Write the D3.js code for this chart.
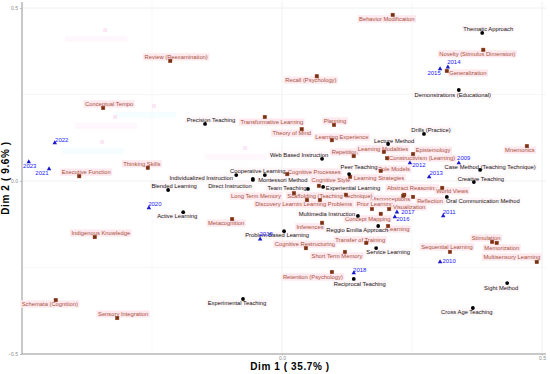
<!DOCTYPE html>
<html>
<head>
<meta charset="utf-8">
<script src="https://cdn.jsdelivr.net/npm/d3@7"></script>
<style>
  body { margin: 0; background: #fff; }
  svg { display: block; font-family: "Liberation Sans", Arial, sans-serif; }
</style>
</head>
<body>
<script>
// teaching methods (black circles): [name, dim1, dim2]
const methods = [
  ["Thematic Approach", 0.385, 0.428],
  ["Demonstrations (Educational)", 0.340, 0.263],
  ["Precision Teaching", -0.148, 0.165],
  ["Drills (Practice)", 0.273, 0.136],
  ["Lecture Method", 0.204, 0.107],
  ["Web Based Instruction", 0.077, 0.064],
  ["Peer Teaching", 0.129, 0.020],
  ["Case Method (Teaching Technique)", 0.381, 0.032],
  ["Creative Teaching", 0.369, -0.003],
  ["Cooperative Learning", -0.033, 0.017],
  ["Individualized Instruction", -0.088, 0.017],
  ["Montessori Method", -0.056, 0.006],
  ["Direct Instruction", -0.056, 0.003],
  ["Blended Learning", -0.219, -0.026],
  ["Active Learning", -0.190, -0.090],
  ["Team Teaching", 0.050, -0.023],
  ["Experiential Learning", 0.079, -0.017],
  ["Multimedia Instruction", 0.146, -0.101],
  ["Reggio Emilia Approach", 0.185, -0.130],
  ["Problem Based Learning", 0.004, -0.145],
  ["Service Learning", 0.181, -0.194],
  ["Reciprocal Teaching", 0.138, -0.283],
  ["Experimental Teaching", -0.075, -0.341],
  ["Sight Method", 0.433, -0.295],
  ["Cross Age Teaching", 0.367, -0.367],
  ["Oral Communication Method", 0.317, -0.046]
];

// learning concepts (brown squares)
const concepts = [
  ["Behavior Modification", 0.213, 0.480],
  ["Novelty (Stimulus Dimension)", 0.387, 0.379],
  ["Generalization", 0.317, 0.318],
  ["Recall (Psychology)", 0.067, 0.303],
  ["Review (Reexamination)", -0.215, 0.347],
  ["Conceptual Tempo", -0.344, 0.211],
  ["Transformative Learning", -0.033, 0.185],
  ["Planning", 0.100, 0.162],
  ["Theory of Mind", 0.038, 0.150],
  ["Learning Experience", 0.096, 0.118],
  ["Repetition", 0.138, 0.072],
  ["Learning Modalities", 0.196, 0.084],
  ["Epistemology", 0.252, 0.078],
  ["Constructivism (Learning)", 0.202, 0.066],
  ["Mnemonics", 0.471, 0.101],
  ["Cognitive Processes", 0.010, 0.020],
  ["Role Models", 0.190, 0.029],
  ["Cognitive Style", 0.071, -0.014],
  ["Learning Strategies", 0.131, 0.012],
  ["Abstract Reasoning", 0.235, -0.040],
  ["Misconceptions", 0.233, -0.043],
  ["World Views", 0.308, -0.020],
  ["Reflection", 0.252, -0.046],
  ["Long Term Memory", 0.023, -0.035],
  ["Scaffolding (Teaching Technique)", 0.123, -0.040],
  ["Discovery Learning", 0.048, -0.055],
  ["Learning Problems", 0.073, -0.055],
  ["Prior Learning", 0.173, -0.081],
  ["Visualization", 0.206, -0.081],
  ["Concept Mapping", 0.190, -0.095],
  ["Metacognition", -0.096, -0.110],
  ["Inferences", 0.077, -0.121],
  ["Learning", 0.204, -0.130],
  ["Cognitive Restructuring", 0.046, -0.194],
  ["Transfer of Training", 0.162, -0.179],
  ["Short Term Memory", 0.121, -0.205],
  ["Retention (Psychology)", 0.096, -0.263],
  ["Sequential Learning", 0.323, -0.205],
  ["Stimulation", 0.404, -0.176],
  ["Memorization", 0.413, -0.179],
  ["Multisensory Learning", 0.490, -0.234],
  ["Thinking Skills", -0.258, 0.038],
  ["Executive Function", -0.390, 0.014],
  ["Indigenous Knowledge", -0.360, -0.162],
  ["Schemata (Cognition)", -0.435, -0.344],
  ["Sensory Integration", -0.317, -0.396]
];

// publication years (blue triangles)
const years = [
  ["2009", 0.340, 0.052],
  ["2010", 0.304, -0.234],
  ["2011", 0.310, -0.101],
  ["2012", 0.246, 0.052],
  ["2013", 0.283, 0.012],
  ["2014", 0.319, 0.329],
  ["2015", 0.304, 0.324],
  ["2016", 0.217, -0.104],
  ["2017", 0.221, -0.090],
  ["2018", 0.138, -0.266],
  ["2019", -0.042, -0.168],
  ["2020", -0.256, -0.078],
  ["2021", -0.448, 0.035],
  ["2022", -0.437, 0.110],
  ["2023", -0.487, 0.055]
];

// faint supplementary points
const ghosts = [
  [-0.340, 0.436],
  [-0.246, 0.217],
  [-0.321, 0.185],
  [-0.346, 0.113],
  [-0.071, 0.095]
];

const xTicks = [0, 0.5];
const yTicks = [-0.5, 0, 0.5];
const gridX = [-0.5, -0.25, 0, 0.25, 0.5];
const gridY = [-0.5, -0.25, 0, 0.25, 0.5];

// label offsets in px (repelled positions)
const nudge = {
  "Thematic Approach": [6, -4], "Demonstrations (Educational)": [-6, 5],
  "Precision Teaching": [6, -4], "Drills (Practice)": [7, -4],
  "Lecture Method": [6, -3], "Web Based Instruction": [-23, -4],
  "Peer Teaching": [10, -7], "Case Method (Teaching Technique)": [10, -3],
  "Creative Teaching": [7, -3], "Cooperative Learning": [-7, -4],
  "Individualized Instruction": [-35, 3], "Montessori Method": [30, 1],
  "Direct Instruction": [-23, 6], "Blended Learning": [6, -4],
  "Active Learning": [-6, 4], "Team Teaching": [-21, -1],
  "Experiential Learning": [30, 1], "Multimedia Instruction": [-31, -2],
  "Reggio Emilia Approach": [-21, 4], "Problem Based Learning": [-7, 4],
  "Service Learning": [12, 4], "Reciprocal Teaching": [6, 5],
  "Experimental Teaching": [-6, 4], "Sight Method": [-6, 5],
  "Cross Age Teaching": [-6, 4], "Oral Communication Method": [36, 4],
  "Behavior Modification": [-6, 4], "Novelty (Stimulus Dimension)": [-6, 4],
  "Generalization": [21, 2], "Recall (Psychology)": [-6, 4],
  "Review (Reexamination)": [6, -4], "Conceptual Tempo": [6, -4],
  "Transformative Learning": [7, 5], "Planning": [1, -4],
  "Theory of Mind": [-10, 4], "Learning Experience": [10, -3],
  "Repetition": [-9, -4], "Learning Modalities": [-1, -3],
  "Epistemology": [20, -4], "Constructivism (Learning)": [35, 0],
  "Mnemonics": [-7, 4], "Cognitive Processes": [27, -2],
  "Role Models": [13, -2], "Cognitive Style": [12, -6],
  "Learning Strategies": [29, 1], "Abstract Reasoning": [8, -7],
  "Misconceptions": [-13, 3], "World Views": [10, 3],
  "Reflection": [17, 4], "Long Term Memory": [-38, 3],
  "Scaffolding (Teaching Technique)": [-16, 1], "Discovery Learning": [-27, 4],
  "Learning Problems": [8, 4], "Prior Learning": [3, -5],
  "Visualization": [20, -2], "Concept Mapping": [-13, 5],
  "Metacognition": [-6, 4], "Inferences": [-12, 4],
  "Learning": [10, 3], "Cognitive Restructuring": [-1, -4],
  "Transfer of Training": [-6, -3], "Short Term Memory": [-8, 4],
  "Retention (Psychology)": [-19, 5], "Sequential Learning": [-3, -5],
  "Stimulation": [-6, -4], "Memorization": [5, 5],
  "Multisensory Learning": [-25, -5], "Thinking Skills": [-6, -4],
  "Executive Function": [7, -4], "Indigenous Knowledge": [6, -4],
  "Schemata (Cognition)": [-6, 4], "Sensory Integration": [6, -4],
  "2009": [5, -5], "2010": [9, -1], "2011": [6, -4], "2012": [9, 2],
  "2013": [7, -4], "2014": [6, -5], "2015": [-6, 4], "2016": [8, 2],
  "2017": [11, 0], "2018": [6, -3], "2019": [6, -5], "2020": [6, -4],
  "2021": [-7, 4], "2022": [7, -3], "2023": [1, 4]
};

const W = 550, H = 374;
const svg = d3.select("body").append("svg").attr("width", W).attr("height", H);

const x = d3.scaleLinear().domain([-0.5, 0.5]).range([22, 542]);
const y = d3.scaleLinear().domain([-0.5, 0.5]).range([354, 8]);
const pLeft = 22, pRight = 546, pTop = 2, pBottom = 354;

// grid
svg.append("g").selectAll("line").data(gridX).join("line")
  .attr("x1", d => x(d)).attr("x2", d => x(d))
  .attr("y1", pTop).attr("y2", pBottom)
  .attr("stroke", "#ececec").attr("stroke-width", d => d % 0.5 === 0 ? 0.8 : 0.5);
svg.append("g").selectAll("line").data(gridY).join("line")
  .attr("x1", pLeft).attr("x2", pRight)
  .attr("y1", d => y(d)).attr("y2", d => y(d))
  .attr("stroke", "#ececec").attr("stroke-width", d => d % 0.5 === 0 ? 0.8 : 0.5);

// axes
const xAxis = svg.append("g").attr("transform", "translate(0," + pBottom + ")")
  .call(d3.axisBottom(x).tickValues(xTicks).tickSize(1.5).tickPadding(0.5)
    .tickFormat(d3.format(".1f")));
const yAxis = svg.append("g").attr("transform", "translate(" + pLeft + ",0)")
  .call(d3.axisLeft(y).tickValues(yTicks).tickSize(2).tickPadding(2)
    .tickFormat(d3.format(".1f")));
[xAxis, yAxis].forEach(a => {
  a.select(".domain").attr("stroke", "#9a9a9a").attr("stroke-width", 1);
  a.selectAll(".tick line").attr("stroke", "#bbb");
  a.selectAll(".tick text").attr("fill", "#8a8a8a").attr("font-size", 5);
});
xAxis.select(".domain").attr("d", "M" + pLeft + ",0H" + pRight);
yAxis.select(".domain").attr("d", "M0," + pTop + "V" + pBottom);

svg.append("text").attr("x", 290).attr("y", 370)
  .attr("text-anchor", "middle").attr("font-weight", "bold").attr("font-size", 10)
  .attr("letter-spacing", 0.6).text("Dim 1 ( 35.7% )");
svg.append("text").attr("transform", "translate(9,178) rotate(-90)")
  .attr("text-anchor", "middle").attr("font-weight", "bold").attr("font-size", 10)
  .attr("letter-spacing", 0.6).text("Dim 2 ( 9.6% )");

// faint background layer
const gh = svg.append("g").attr("opacity", 0.35);
ghosts.forEach((g, i) => {
  gh.append("rect").attr("x", x(g[0]) - 40).attr("y", y(g[1]) + 6)
    .attr("width", 62).attr("height", 6).attr("fill", i % 2 ? "#e6fbfd" : "#fde9f6");
  gh.append("rect").attr("x", x(g[0]) - 2).attr("y", y(g[1]) - 2)
    .attr("width", 4).attr("height", 4).attr("fill", "#f6b8e8");
});

function addLabels(data, color, bg, size) {
  const g = svg.append("g");
  data.forEach(d => {
    const o = nudge[d[0]] || [0, -4];
    const lx = x(d[1]) + o[0], ly = y(d[2]) + o[1];
    const r = g.append("rect").attr("fill", bg);
    const t = g.append("text").attr("x", lx).attr("y", ly)
      .attr("text-anchor", "middle").attr("dy", "0.35em")
      .attr("font-size", size).attr("fill", color).text(d[0]);
    const w = t.node().getComputedTextLength();
    if (bg) r.attr("x", lx - w / 2 - 1.5).attr("y", ly - 3.7)
      .attr("width", w + 3).attr("height", 7.4);
    else r.remove();
  });
}

// label layers
addLabels(concepts, "#a8503c", "#fde9ee", 5.8);
addLabels(methods, "#111", "rgba(253,240,244,0.6)", 5.8);
addLabels(years, "#1a1aff", null, 6);

// points
svg.append("g").selectAll("rect").data(concepts).join("rect")
  .attr("x", d => x(d[1]) - 1.8).attr("y", d => y(d[2]) - 1.8)
  .attr("width", 3.6).attr("height", 3.6)
  .attr("fill", "#6e3418").attr("stroke", "#b5482c").attr("stroke-width", 0.4);
svg.append("g").selectAll("circle").data(methods).join("circle")
  .attr("cx", d => x(d[1])).attr("cy", d => y(d[2])).attr("r", 1.9).attr("fill", "#000");
svg.append("g").selectAll("path").data(years).join("path")
  .attr("transform", d => "translate(" + x(d[1]) + "," + y(d[2]) + ")")
  .attr("d", d3.symbol(d3.symbolTriangle, 9)).attr("fill", "#1a1acc");
</script>
</body>
</html>
